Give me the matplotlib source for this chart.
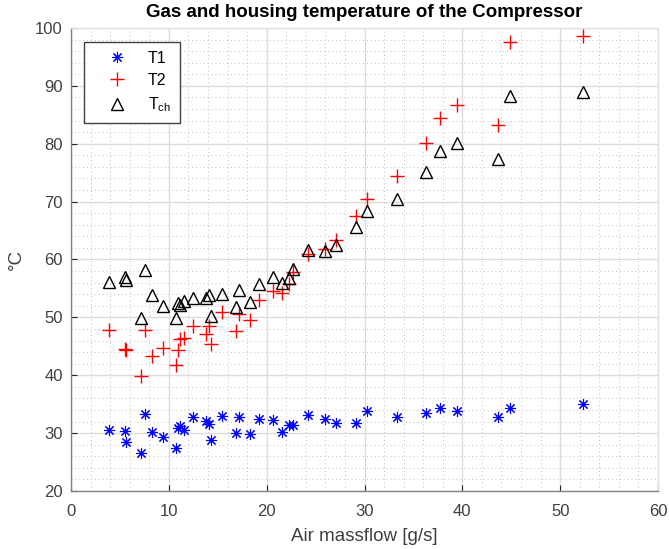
import numpy as np
import matplotlib
matplotlib.use("Agg")
import matplotlib.pyplot as plt

plt.rcParams['font.family'] = ['Liberation Sans', 'DejaVu Sans']

# air massflow [g/s]
massflow = [3.9, 5.5, 5.6, 7.2, 7.6, 8.3, 9.4, 10.7, 10.9, 11.1, 11.6, 12.5,
            13.8, 14.1, 14.3, 15.4, 16.9, 17.2, 18.3, 19.2, 20.6, 21.6, 22.3,
            22.7, 24.2, 26.0, 27.1, 29.1, 30.3, 33.3, 36.3, 37.7, 39.5, 43.6,
            44.9, 52.3]

T1 = [30.6, 30.3, 28.4, 26.6, 33.3, 30.2, 29.3, 27.5, 30.8, 31.2, 30.6, 32.7,
      32.1, 31.6, 28.8, 32.9, 30.1, 32.7, 29.9, 32.5, 32.2, 30.2, 31.4,
      31.4, 33.1, 32.5, 31.7, 31.7, 33.8, 32.8, 33.5, 34.4, 33.9, 32.8,
      34.4, 35.1]

T2 = [47.9, 44.5, 44.3, 39.8, 47.9, 43.4, 44.7, 41.7, 44.4, 46.2, 46.4, 48.5,
      47.2, 48.5, 45.4, 51.0, 47.6, 50.5, 49.6, 53.0, 54.5, 54.2, 55.7,
      57.8, 61.0, 61.8, 63.3, 67.5, 70.4, 74.4, 80.2, 84.4, 86.7, 83.2,
      97.5, 98.6]

Tch = [56.1, 56.9, 56.5, 49.9, 58.1, 53.9, 52.0, 49.9, 52.5, 52.1, 52.9, 53.3,
       53.3, 53.9, 50.2, 54.1, 51.8, 54.8, 52.7, 55.7, 57.0, 55.9, 56.8,
       58.3, 61.7, 61.5, 62.5, 65.6, 68.4, 70.4, 75.2, 78.7, 80.1, 77.3,
       88.2, 89.0]

W, H = 669, 549
fig = plt.figure(figsize=(W / 100, H / 100), dpi=100)
ax = fig.add_axes([71 / W, (H - 491) / H, 587 / W, 463 / H])

asterisk = (8, 2, 0)
ax.plot(massflow, T1, linestyle='none', marker=asterisk, color='#0000ff',
        markersize=8, markeredgewidth=0.8, label='T1', zorder=3)
ax.plot(massflow, T2, linestyle='none', marker='+', color='#ff0000',
        markersize=10, markeredgewidth=1.0, label='T2', zorder=3)
ax.plot(massflow, Tch, linestyle='none', marker='^', markerfacecolor='none',
        markeredgecolor='black', markersize=9, markeredgewidth=1.0,
        label='T$_{\\mathregular{ch}}$', zorder=3)

ax.set_xlim(0, 60)
ax.set_ylim(20, 100)
ax.set_xticks(np.arange(0, 61, 10))
ax.set_yticks(np.arange(20, 101, 10))
ax.set_xticks(np.arange(0, 61, 2), minor=True)
ax.set_yticks(np.arange(20, 101, 2), minor=True)

ax.grid(True, which='major', color='#dcdcdc', linewidth=1.0, zorder=0)
ax.grid(True, which='minor', color='#c0c0c0', linestyle=(0, (1, 3)),
        linewidth=0.7, zorder=0)
ax.set_axisbelow(True)

for side in ['left', 'bottom']:
    ax.spines[side].set_color('#808080')
    ax.spines[side].set_linewidth(1.0)
for side in ['top', 'right']:
    ax.spines[side].set_color('#e0e0e0')
    ax.spines[side].set_linewidth(1.0)

ax.tick_params(which='major', direction='in', length=4, width=0.8,
               color='#262626', labelsize=12, labelcolor='#404040')
ax.tick_params(axis='x', which='major', pad=9)
ax.tick_params(axis='y', which='major', pad=6)
ax.tick_params(which='minor', length=0)

ax.set_title('Gas and housing temperature of the Compressor',
             fontsize=13.5, fontweight='bold', color='black', pad=8)
ax.set_xlabel('Air massflow [g/s]', fontsize=13.5, color='#404040', labelpad=7)
ax.set_ylabel('°C', fontsize=13.5, color='#404040', labelpad=7)

leg = ax.legend(loc='upper left', bbox_to_anchor=(13 / 587, 1 - 14 / 463),
                fontsize=11.5, frameon=True, fancybox=False,
                edgecolor='#404040', framealpha=1.0, borderpad=0.55,
                labelspacing=0.45, handlelength=3.0, handletextpad=0.45,
                borderaxespad=0)
leg.get_frame().set_linewidth(1.0)
for t in leg.get_texts():
    t.set_color('black')

fig.savefig('out.png', dpi=100)
